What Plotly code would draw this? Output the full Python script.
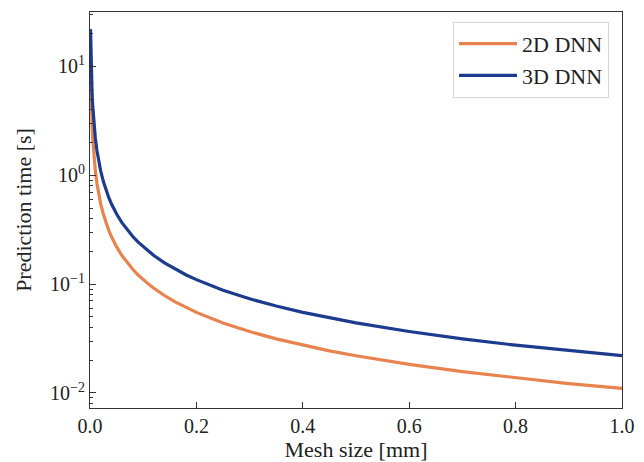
import plotly.graph_objects as go

# Values
mesh_size = [0.001, 0.0015, 0.002, 0.003, 0.004, 0.005, 0.007, 0.01, 0.013, 0.016,
             0.02, 0.025, 0.03, 0.035, 0.04, 0.045, 0.05, 0.06, 0.07, 0.08, 0.09, 0.1,
             0.11, 0.12, 0.14, 0.16, 0.18, 0.2, 0.25, 0.3, 0.35, 0.4, 0.45, 0.5, 0.6,
             0.7, 0.8, 0.9, 1.0]
time_2d = [11.0, 7.33, 5.5, 3.67, 2.75, 2.2, 1.57, 1.1, 0.846, 0.688,
           0.55, 0.44, 0.367, 0.314, 0.275, 0.244, 0.22, 0.183, 0.157, 0.1375, 0.122, 0.11,
           0.1, 0.0917, 0.0786, 0.0688, 0.0611, 0.055, 0.044, 0.0367, 0.0314, 0.0275, 0.0244, 0.022, 0.0183,
           0.0157, 0.01375, 0.0122, 0.011]
time_3d = [22.0, 14.7, 11.0, 7.33, 5.5, 4.4, 3.14, 2.2, 1.69, 1.375,
           1.1, 0.88, 0.733, 0.629, 0.55, 0.489, 0.44, 0.367, 0.314, 0.275, 0.244, 0.22,
           0.2, 0.183, 0.157, 0.1375, 0.122, 0.11, 0.088, 0.0733, 0.0629, 0.055, 0.0489, 0.044, 0.0367,
           0.0314, 0.0275, 0.0244, 0.022]

x_ticks = [0.0, 0.2, 0.4, 0.6, 0.8, 1.0]
y_ticks = [0.01, 0.1, 1, 10]
y_ticktext = ["10<sup>\u22122</sup>", "10<sup>\u22121</sup>", "10<sup>0</sup>", "10<sup>1</sup>"]
y_minor = [m * 10 ** e for e in (-3, -2, -1, 0, 1) for m in range(2, 10)]

FONT = "Liberation Serif, Times New Roman, serif"

fig = go.Figure()
fig.add_trace(go.Scatter(x=mesh_size, y=time_2d, mode="lines", name="2D DNN",
                         line=dict(color="#e8834f", width=3.2)))
fig.add_trace(go.Scatter(x=mesh_size, y=time_3d, mode="lines", name="3D DNN",
                         line=dict(color="#1c3a8e", width=3.2)))

# the page body has an 8px margin, so the margins are shifted by 8px
fig.update_layout(
    width=644, height=462,
    margin=dict(l=82, r=30, t=4, b=62, autoexpand=False),
    paper_bgcolor="white", plot_bgcolor="white",
    font=dict(family=FONT, size=20, color="#222"),
    showlegend=True,
    legend=dict(x=0.9756, y=0.975, xanchor="right", yanchor="top",
                bgcolor="white", bordercolor="#d6d6d6", borderwidth=1,
                font=dict(family=FONT, size=22, color="#222"),
                itemwidth=58),
)
fig.update_xaxes(
    range=[0, 1], tickvals=x_ticks, tickformat=".1f",
    tickfont=dict(family=FONT, size=20),
    ticks="inside", ticklen=6, tickwidth=1, tickcolor="#333",
    showline=True, linecolor="#333", linewidth=1.2, mirror=True,
    showgrid=False, zeroline=False,
    title=dict(text="Mesh size [mm]", font=dict(family=FONT, size=22), standoff=3),
)
fig.update_yaxes(
    type="log", range=[-2.138, 1.5], tickvals=y_ticks, ticktext=y_ticktext,
    tickfont=dict(family=FONT, size=20),
    ticks="inside", ticklen=6, tickwidth=1, tickcolor="#333",
    minor=dict(tickvals=y_minor, ticks="inside", ticklen=3, tickwidth=1, tickcolor="#333"),
    showline=True, linecolor="#333", linewidth=1.2, mirror=True,
    showgrid=False, zeroline=False,
    title=dict(text="Prediction time [s]", font=dict(family=FONT, size=22), standoff=12),
)

fig.write_html("out.html")
